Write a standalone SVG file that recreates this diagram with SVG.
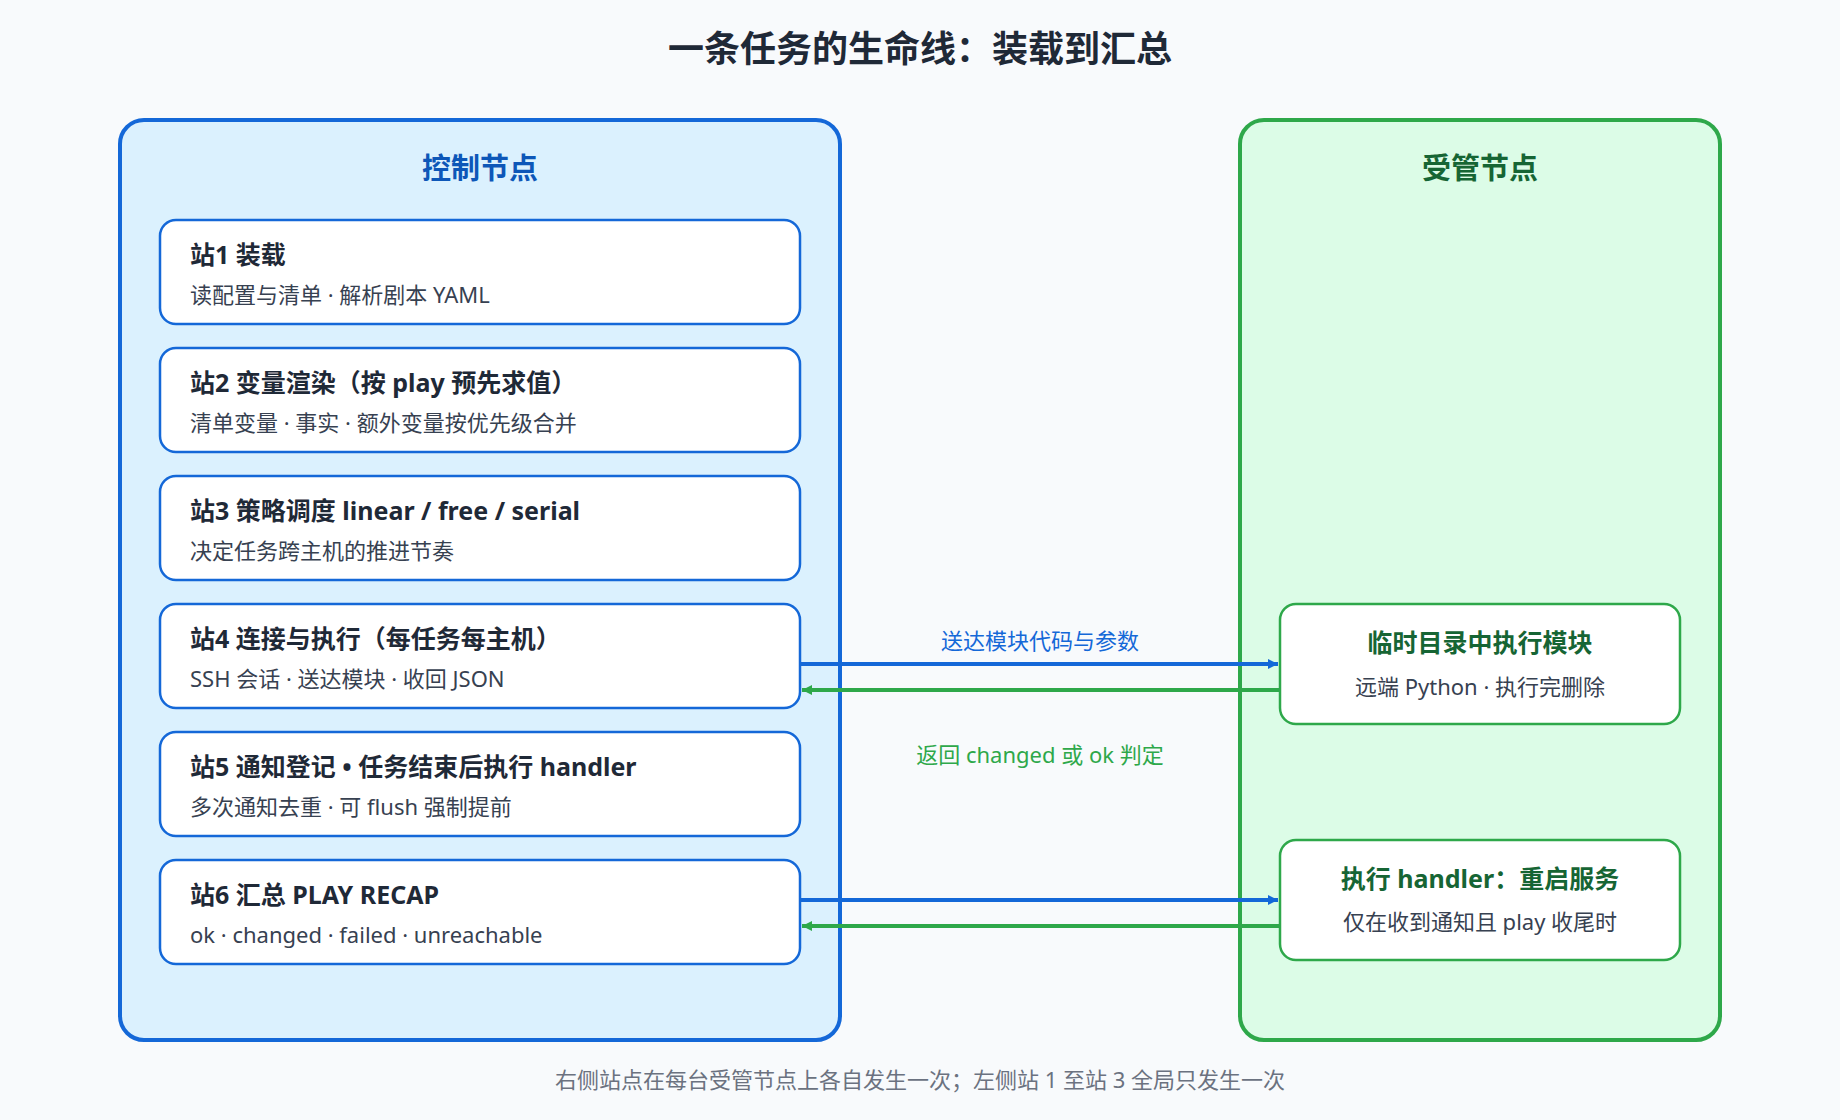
<svg xmlns="http://www.w3.org/2000/svg" width="1840" height="1120" viewBox="0 0 1840 1120">
<defs>
<style>
text{font-family:"Noto Sans","Noto Sans CJK SC",sans-serif}
.t{font-size:25px;font-weight:bold;fill:#1f2937}
.s{font-size:22px;fill:#374151}
.box{fill:#fff;stroke:#1468d8;stroke-width:2.5}
.gbox{fill:#fff;stroke:#2ea84a;stroke-width:2.5}
.gt{font-size:25px;font-weight:bold;fill:#166534;text-anchor:middle}
.gs{font-size:22px;fill:#374151;text-anchor:middle}
</style>
<marker id="ab" viewBox="0 0 10 10" refX="10" refY="5" markerWidth="10" markerHeight="10" markerUnits="userSpaceOnUse" orient="auto"><path d="M0,0L10,5L0,10z" fill="#1468d8"/></marker>
<marker id="ag" viewBox="0 0 10 10" refX="10" refY="5" markerWidth="10" markerHeight="10" markerUnits="userSpaceOnUse" orient="auto"><path d="M0,0L10,5L0,10z" fill="#2ea84a"/></marker>
</defs>
<rect width="1840" height="1120" fill="#f8fafc"/>
<text x="920" y="62" text-anchor="middle" font-size="36" font-weight="bold" fill="#1f2937">一条任务的生命线：装载到汇总</text>
<g id="control">
<rect x="120" y="120" width="720" height="920" rx="24" fill="#dbf1fe" stroke="#1468d8" stroke-width="4"/>
<text x="480" y="179" text-anchor="middle" font-size="29" font-weight="bold" fill="#0d57b8">控制节点</text>
</g>
<g id="managed">
<rect x="1240" y="120" width="480" height="920" rx="24" fill="#dcfce7" stroke="#2ea84a" stroke-width="4"/>
<text x="1480" y="179" text-anchor="middle" font-size="29" font-weight="bold" fill="#166534">受管节点</text>
</g>
<g id="s1"><rect class="box" x="160" y="220" width="640" height="104" rx="16"/><text class="t" x="190" y="264">站1 装载</text><text class="s" x="190" y="303">读配置与清单 · 解析剧本 YAML</text></g>
<g id="s2"><rect class="box" x="160" y="348" width="640" height="104" rx="16"/><text class="t" x="190" y="392">站2 变量渲染（按 play 预先求值）</text><text class="s" x="190" y="431">清单变量 · 事实 · 额外变量按优先级合并</text></g>
<g id="s3"><rect class="box" x="160" y="476" width="640" height="104" rx="16"/><text class="t" x="190" y="520">站3 策略调度 linear / free / serial</text><text class="s" x="190" y="559">决定任务跨主机的推进节奏</text></g>
<g id="s4"><rect class="box" x="160" y="604" width="640" height="104" rx="16"/><text class="t" x="190" y="648">站4 连接与执行（每任务每主机）</text><text class="s" x="190" y="687">SSH 会话 · 送达模块 · 收回 JSON</text></g>
<g id="s5"><rect class="box" x="160" y="732" width="640" height="104" rx="16"/><text class="t" x="190" y="776">站5 通知登记 • 任务结束后执行 handler</text><text class="s" x="190" y="815">多次通知去重 · 可 flush 强制提前</text></g>
<g id="s6"><rect class="box" x="160" y="860" width="640" height="104" rx="16"/><text class="t" x="190" y="904">站6 汇总 PLAY RECAP</text><text class="s" x="190" y="943">ok · changed · failed · unreachable</text></g>
<g id="r1"><rect class="gbox" x="1280" y="604" width="400" height="120" rx="16"/><text class="gt" x="1480" y="652">临时目录中执行模块</text><text class="gs" x="1480" y="695">远端 Python · 执行完删除</text></g>
<g id="r2"><rect class="gbox" x="1280" y="840" width="400" height="120" rx="16"/><text class="gt" x="1480" y="888">执行 handler：重启服务</text><text class="gs" x="1480" y="930">仅在收到通知且 play 收尾时</text></g>
<g id="connectors" stroke-width="4" fill="none">
<line x1="800" y1="664" x2="1278" y2="664" stroke="#1468d8" marker-end="url(#ab)"/>
<line x1="1280" y1="690" x2="802" y2="690" stroke="#2ea84a" marker-end="url(#ag)"/>
<line x1="800" y1="900" x2="1278" y2="900" stroke="#1468d8" marker-end="url(#ab)"/>
<line x1="1280" y1="926" x2="802" y2="926" stroke="#2ea84a" marker-end="url(#ag)"/>
</g>
<text x="1040" y="649" text-anchor="middle" font-size="22" fill="#1468d8">送达模块代码与参数</text>
<text x="1040" y="763" text-anchor="middle" font-size="22" fill="#2ea84a">返回 changed 或 ok 判定</text>
<text x="920" y="1088" text-anchor="middle" font-size="22" fill="#6b7280">右侧站点在每台受管节点上各自发生一次；左侧站 1 至站 3 全局只发生一次</text>
</svg>
